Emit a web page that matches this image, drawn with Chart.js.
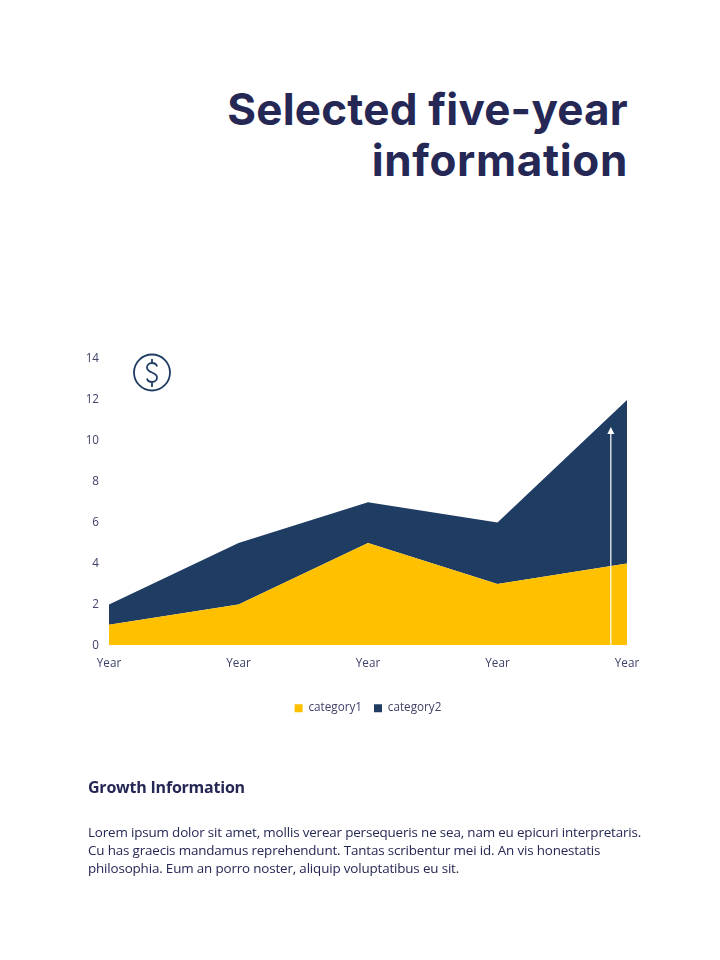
<!DOCTYPE html>
<html><head><meta charset="utf-8">
<style>
html,body{margin:0;padding:0;background:#fff;width:720px;height:960px;overflow:hidden}
#wrap{position:absolute;left:0;top:340px;width:720px;height:390px}
.t{position:absolute;color:#252855;white-space:nowrap}
#title{right:92px;top:84px;text-align:right;font:700 44px/51px "Inter",sans-serif;letter-spacing:.2px}
#title span{letter-spacing:.65px}
#sub{left:88px;top:776px;font:700 16px/22px "Open Sans",sans-serif;letter-spacing:-.22px}
#body{left:88px;top:823px;font:400 13.4px/18px "Open Sans",sans-serif;letter-spacing:-.155px}
svg{position:absolute;left:0;top:0;pointer-events:none}
</style></head><body>
<div class="t" id="title">Selected five-year<br><span>information</span></div>
<div id="wrap"><canvas id="c" width="720" height="390"></canvas></div>
<svg width="720" height="960" viewBox="0 0 720 960">
<g fill="none" stroke="#1F3D63" stroke-width="1.8">
<circle cx="152" cy="372.5" r="18"/>
<path d="M157 366.5c-.5-2.5-2.5-3.5-5-3.5c-3 0-5 2-5 4.500c0 3 2.500 4 5 5c2.500 1 5 2 5 5c0 2.500-2 4.500-5 4.500c-2.500 0-4.500-1-5-3.500M152 359v4M152 382v5"/>
</g>
</svg>
<div class="t" id="sub">Growth Information</div>
<div class="t" id="body">Lorem ipsum dolor sit amet, mollis verear persequeris ne sea, nam eu epicuri interpretaris.<br>Cu has graecis mandamus reprehendunt. Tantas scribentur mei id. An vis honestatis<br>philosophia. Eum an porro noster, aliquip voluptatibus eu sit.</div>
<script src="https://cdn.jsdelivr.net/npm/chart.js@4"></script>
<script>
const categories=["Year","Year","Year","Year","Year"];
const category1=[1,2,5,3,4];
const category2=[1,3,2,3,8];
const yTicks=[0,2,4,6,8,10,12,14];
const arrowAt=3.875, arrowTop=10.68;
const arrowPlugin={id:'arrow',
 afterLayout(ch){const l=ch.legend;l.left=ch.chartArea.left;l.right=ch.chartArea.right;},
 afterDatasetsDraw(ch){
  const x=ch.scales.x.getPixelForValue(arrowAt),y0=ch.scales.y.getPixelForValue(0),y1=ch.scales.y.getPixelForValue(arrowTop);
  const g=ch.ctx;g.save();g.strokeStyle='#fff';g.fillStyle='#fff';g.lineWidth=1.2;
  g.beginPath();g.moveTo(x,y0);g.lineTo(x,y1+5);g.stroke();
  g.beginPath();g.moveTo(x,y1);g.lineTo(x-3.5,y1+7);g.lineTo(x+3.5,y1+7);g.closePath();g.fill();g.restore();
}};
const font={family:'"Open Sans",sans-serif',size:11.7};
new Chart(document.getElementById('c'),{
  type:'line',
  data:{labels:categories,datasets:[
    {label:'category1',data:category1,backgroundColor:'#FFC000',borderColor:'#FFC000',borderWidth:0,fill:'origin',pointRadius:0,tension:0},
    {label:'category2',data:category2,backgroundColor:'#1F3D63',borderColor:'#1F3D63',borderWidth:0,fill:'-1',pointRadius:0,tension:0}
  ]},
  plugins:[arrowPlugin],
  options:{
    responsive:false,animation:false,devicePixelRatio:1,
    layout:{padding:{left:0,right:93,top:19,bottom:6}},
    scales:{
      x:{offset:false,grid:{display:false},border:{display:false},
         ticks:{color:'#3F4268',font,padding:3,maxRotation:0,autoSkip:false},
         afterFit(a){a.height=45;}},
      y:{stacked:true,min:0,max:14,afterBuildTicks(a){a.ticks=yTicks.map(v=>({value:v}));},
         grid:{display:false},border:{display:false},
         ticks:{color:'#3F4268',font,padding:2},
         afterFit(a){a.width=109;}}
    },
    plugins:{legend:{position:'bottom',labels:{color:'#3F4268',font,boxWidth:8,boxHeight:8,padding:12}},tooltip:{enabled:false}}
  }
});
</script>
</body></html>
